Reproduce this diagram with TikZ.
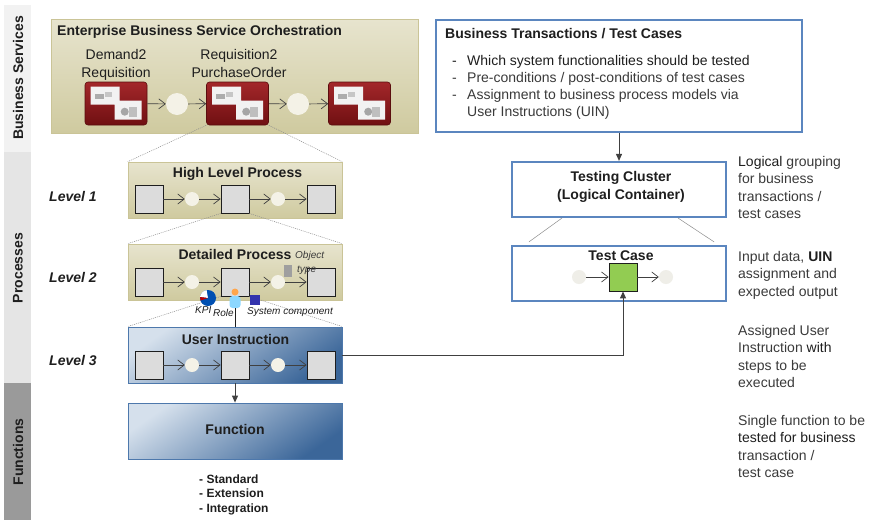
\documentclass[tikz,border=0pt]{standalone}
\usepackage{fontspec}
\setmainfont{Liberation Sans}
\usetikzlibrary{arrows.meta,calc}

\definecolor{ink}{HTML}{1E1E1E}
\definecolor{note}{HTML}{3A3A3A}
\definecolor{bandA}{HTML}{F2F2F2}
\definecolor{bandB}{HTML}{E5E5E5}
\definecolor{bandC}{HTML}{9A9A9A}
\definecolor{oliveL}{HTML}{E7E4CE}
\definecolor{oliveD}{HTML}{CFCA9F}
\definecolor{oliveE}{HTML}{CAC497}
\definecolor{blueL}{HTML}{D5E0EC}
\definecolor{blueD}{HTML}{3B6699}
\definecolor{blueE}{HTML}{4D78AC}
\definecolor{frame}{HTML}{5B86BF}
\definecolor{redL}{HTML}{A3272A}
\definecolor{redD}{HTML}{701012}
\definecolor{stepgray}{HTML}{DCDCDC}
\definecolor{gatefill}{HTML}{F4F2E7}
\definecolor{gatefade}{HTML}{EFEEE8}
\definecolor{greenbox}{HTML}{92CC52}
\definecolor{zoomc}{HTML}{8C8C8C}

\tikzset{
  every node/.style={inner sep=0pt, text=ink, font=\fontsize{14}{17.5}\selectfont},
  lbl/.style={font=\fontsize{14}{17.5}\selectfont\bfseries},
  lvl/.style={font=\fontsize{14}{17.5}\selectfont\bfseries\itshape, anchor=base west},
  tiny/.style={font=\fontsize{10}{12}\selectfont\itshape, text=note},
  notetext/.style={anchor=base west, align=left, text=note},
  olivebox/.style={draw=oliveE, line width=0.6pt, top color=oliveL, bottom color=oliveD},
  bluebox/.style={draw=blueE, line width=0.8pt, top color=blueL, bottom color=blueD, shading angle=35},
  framebox/.style={draw=frame, line width=2.2pt, fill=white},
  stepbox/.style={draw=ink, line width=0.8pt, fill=stepgray, minimum size=28pt},
  gate/.style={circle, fill=gatefill, minimum size=14pt},
  svc/.style={rounded corners=3pt, draw=redD!80!black, line width=0.6pt,
              top color=redL, bottom color=redD, minimum width=62pt, minimum height=43pt},
  flow/.style={draw=ink!85, line width=0.7pt, -{Straight Barb[length=6.5pt,width=10pt]}},
  link/.style={draw=ink!85, line width=0.9pt, -{Triangle[length=7pt,width=6pt]}},
  zoomline/.style={draw=zoomc, line width=0.5pt, dash pattern=on 1pt off 1pt},
  thinline/.style={draw=zoomc, line width=0.5pt}
}

% a row of steps: square, gate, square, gate, square
\newcommand\procrow[2]{%
  \node[stepbox] (#1s1) at (149,#2) {};
  \node[gate]    (#1c1) at (192,#2) {};
  \node[stepbox] (#1s2) at (235,#2) {};
  \node[gate]    (#1c2) at (278,#2) {};
  \node[stepbox] (#1s3) at (321,#2) {};
  \draw[flow] (#1s1) -- (#1c1);
  \draw[flow] (#1c1) -- (#1s2);
  \draw[flow] (#1s2) -- (#1c2);
  \draw[flow] (#1c2) -- (#1s3);
}

% a service block: red tile with two stepped white panels
\newcommand\svcbox[2]{%
  \node[svc] (#1) at (#2) {};
  \begin{scope}[shift={(#1.north west)}]
    \fill[white!90!gray] (6,5) -- (35,5) -- (35,19) -- (57,19) -- (57,38)
         -- (30,38) -- (30,23) -- (6,23) -- cycle;
    \fill[gray!65] (10,12) rectangle (19,17);
    \fill[gray!45] (20,10) rectangle (27,15);
    \fill[gray!70] (40,30) circle (4);
    \fill[gray!50] (44,25) rectangle (52,35);
  \end{scope}
}

\begin{document}
\begin{tikzpicture}[x=1pt,y=-1pt]
\useasboundingbox (0,0) rectangle (874,520);

% ---- layer bands on the left ----
\node[fill=bandA, minimum width=27pt, minimum height=147pt, anchor=north west] (bandbs) at (4,5) {};
\node[fill=bandB, minimum width=27pt, minimum height=231pt, anchor=north west] (bandpr) at (4,152) {};
\node[fill=bandC, minimum width=27pt, minimum height=137pt, anchor=north west] (bandfn) at (4,383) {};
\node[lbl, rotate=90] (tbs) at (18,78) {Business Services};
\node[lbl, rotate=90] (tpr) at (18,268) {Processes};
\node[lbl, rotate=90] (tfn) at (18,452) {Functions};

% ---- business service orchestration ----
\node[olivebox, minimum width=367pt, minimum height=114pt] (ebso) at (234.5,76) {};
\node[lbl, anchor=base west] (ebsot) at (57,35) {Enterprise Business Service Orchestration};
% multi-line nodes: the base anchor sits on the last line
\node[anchor=base, align=center] (n1) at (116,77) {Demand2\\Requisition};
\node[anchor=base, align=center] (n2) at (239,77) {Requisition2\\PurchaseOrder};

\svcbox{b1}{116,103.5}
\svcbox{b2}{237.5,103.5}
\svcbox{b3}{359.5,103.5}
\node[gate, minimum size=22pt] (e1) at (177,104) {};
\node[gate, minimum size=22pt] (e2) at (298,104) {};
\draw[flow] (b1) -- (e1);
\draw[flow] (e1) -- (b2);
\draw[flow] (b2) -- (e2);
\draw[flow] (e2) -- (b3);

% ---- process levels ----
\node[olivebox, minimum width=214pt, minimum height=56pt] (hlp) at (235,190) {};
\node[lbl, anchor=base] (hlpt) at (237.5,177) {High Level Process};
\procrow{h}{199}

\node[olivebox, minimum width=214pt, minimum height=56pt] (dp) at (235,272) {};
\node[lbl, anchor=base] (dpt) at (235,259) {Detailed Process};
\procrow{d}{282}

\node[bluebox, minimum width=214pt, minimum height=56pt] (ui) at (235,355) {};
\node[lbl, anchor=base] (uit) at (235.5,344) {User Instruction};
\procrow{u}{365}

\node[bluebox, minimum width=214pt, minimum height=56pt] (fn) at (235,431) {};
\node[lbl, anchor=base] (fnt) at (235,434) {Function};

\node[lvl] (l1) at (49,201) {Level 1};
\node[lvl] (l2) at (49,282) {Level 2};
\node[lvl] (l3) at (49,365) {Level 3};

\node[anchor=base west, align=left, font=\fontsize{12}{14.5}\selectfont\bfseries] (kinds) at (199,512)
  {- Standard\\- Extension\\- Integration};

% zoom-in guides between the levels
\draw[zoomline] (b2.south west) -- (hlp.north west);
\draw[zoomline] (b2.south east) -- (hlp.north east);
\draw[zoomline] (hs2.south west) -- (dp.north west);
\draw[zoomline] (hs2.south east) -- (dp.north east);
\draw[zoomline] (ds2.south west) -- (ui.north west);
\draw[zoomline] (ds2.south east) -- (ui.north east);

% object type marker
\node[fill=gray!75, minimum width=8pt, minimum height=12pt] (obj) at (288,271) {};
\node[tiny, anchor=base west] (objt1) at (295,258) {Object};
\node[tiny, anchor=base west] (objt2) at (297,272) {type};

% KPI, role and system component icons
\node[circle, fill=blue!55!cyan!70!black, minimum size=16pt] (kpi) at (208,298) {};
\fill[white] (kpi.center) -- ++(-8,-1) arc[start angle=187, end angle=260, radius=8] -- cycle;
\fill[red!75!black] (kpi.center) -- ++(-7.5,2.5) arc[start angle=162, end angle=187, radius=8] -- cycle;
\node[rounded corners=3pt, fill=blue!35!cyan!45, minimum width=11pt, minimum height=12pt] (role) at (235,302) {};
\node[circle, fill=orange!70, minimum size=7pt] (rolehead) at (235,292) {};
\node[fill=blue!60!black!80, minimum width=10pt, minimum height=10pt] (sysc) at (255,300) {};
\fill[blue!35] ([shift={(-3,-3)}]sysc.north west) rectangle ([shift={(-3,-3)}]sysc.north east);
\node[tiny, anchor=base west, text=ink] (kpit) at (195,313) {KPI};
\node[tiny, anchor=base west, text=ink] (rolet) at (213,316) {Role};
\node[tiny, anchor=base west, text=ink] (syst) at (247,314) {System component};
\draw[ink, line width=0.8pt] (role.south) -- (ui.north);

\draw[link] (ui) -- (fn);

% ---- test side ----
\node[framebox, minimum width=366pt, minimum height=112pt] (bt) at (619,76) {};
\node[lbl, anchor=base west] (btt) at (445,38) {Business Transactions / Test Cases};
\node[anchor=base west] (btd) at (452,65) {-};
\node[anchor=base west] (bti) at (467,65) {Which system functionalities should be tested};
\node[anchor=base west, text=note] (btd2) at (452,82) {-};
\node[anchor=base west, text=note] (bti2) at (467,82) {Pre-conditions / post-conditions of test cases};
\node[anchor=base west, text=note] (btd3) at (452,99) {-};
\node[anchor=base west, align=left, text=note] (bti3) at (467,116.5)
  {Assignment to business process models via\\User Instructions (UIN)};

\node[framebox, minimum width=214pt, minimum height=55pt] (tc) at (619,189.5) {};
\node[lbl, anchor=base, align=center] (tct) at (621,199) {Testing Cluster\\(Logical Container)};

\node[framebox, minimum width=214pt, minimum height=55pt] (tcase) at (619,273.5) {};
\node[lbl, anchor=base] (tcaset) at (621,260) {Test Case};
\node[draw=ink, line width=0.8pt, fill=greenbox, minimum size=28pt] (tsq) at (623,277) {};
\node[circle, fill=gatefade, minimum size=14pt] (tin) at (579,277) {};
\node[circle, fill=gatefade, minimum size=14pt] (tout) at (666,277) {};
\draw[flow] (tin) -- (tsq);
\draw[flow] (tsq) -- (tout);

\draw[thinline] ($(tc.south west)+(51,0)$) -- ($(tcase.north west)+(18,-3)$);
\draw[thinline] ($(tc.south east)+(-49,0)$) -- ($(tcase.north east)+(-13,-3)$);

\draw[link] (bt) -- (tc);
\draw[link] (ui.east) -| (tsq.south);

% ---- explanations on the right ----
\node[notetext] (x1) at (738,218.5) {{\color{ink}Logical} grouping\\for business\\transactions /\\test cases};
\node[notetext] (x2) at (738,296) {Input data, {\color{ink}\bfseries UIN}\\assignment and\\expected output};
\node[notetext] (x3) at (738,387.5) {Assigned User\\Instruction {\color{ink}with}\\steps to be\\executed};
\node[notetext] (x4) at (738,477.5) {Single function to be\\{\color{ink}tested for business}\\transaction /\\test case};

\end{tikzpicture}
\end{document}
